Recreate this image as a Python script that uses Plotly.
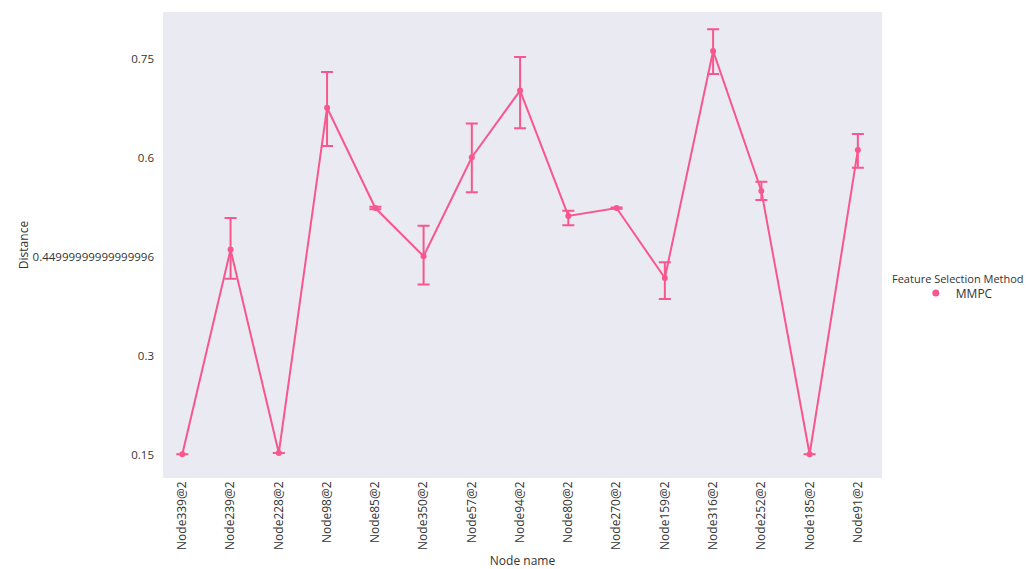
import plotly.graph_objects as go

# Node names on the x axis
nodes = ["Node339@2", "Node239@2", "Node228@2", "Node98@2", "Node85@2",
         "Node350@2", "Node57@2", "Node94@2", "Node80@2", "Node270@2",
         "Node159@2", "Node316@2", "Node252@2", "Node185@2", "Node91@2"]

# Mean distance per node (MMPC)
distance = [0.151, 0.461, 0.153, 0.676, 0.524, 0.451, 0.601, 0.702, 0.512,
            0.524, 0.418, 0.762, 0.550, 0.151, 0.612]

# Confidence interval bounds
ci_upper = [0.151, 0.509, 0.153, 0.730, 0.526, 0.497, 0.652, 0.753, 0.520,
            0.525, 0.442, 0.795, 0.564, 0.151, 0.636]
ci_lower = [0.151, 0.417, 0.153, 0.618, 0.522, 0.408, 0.548, 0.645, 0.498,
            0.523, 0.386, 0.727, 0.536, 0.151, 0.585]

# Y tick values and their printed labels
y_ticks = [0.15, 0.3, 0.44999999999999996, 0.6, 0.75]
y_tick_text = ["0.15", "0.3", "0.44999999999999996", "0.6", "0.75"]

color = "#F8578E"

err_plus = [u - d for u, d in zip(ci_upper, distance)]
err_minus = [d - l for d, l in zip(distance, ci_lower)]

fig = go.Figure()
fig.add_trace(go.Scatter(
    x=list(range(len(nodes))), y=distance,
    mode="lines+markers",
    name="MMPC",
    showlegend=False,
    line=dict(color=color, width=2),
    marker=dict(color=color, size=6),
    error_y=dict(type="data", symmetric=False, array=err_plus,
                 arrayminus=err_minus, color=color, thickness=2, width=6),
))
# Legend entry shown as a single dot
fig.add_trace(go.Scatter(
    x=[None], y=[None], mode="markers", name="MMPC",
    marker=dict(color=color, size=7),
))

fig.update_layout(
    width=1032, height=569,
    margin=dict(l=163, r=150, t=12, b=91),
    paper_bgcolor="white",
    plot_bgcolor="#EAEAF2",
    font=dict(family="Open Sans, DejaVu Sans, sans-serif", size=12, color="#333333"),
    showlegend=True,
    legend=dict(
        x=1.047, y=0.397, xanchor="left", yanchor="middle",
        bgcolor="rgba(0,0,0,0)", font=dict(size=12),
    ),
    annotations=[dict(
        text="Feature Selection Method", xref="paper", yref="paper",
        x=1.011, y=0.429, xanchor="left", yanchor="middle",
        showarrow=False, font=dict(size=11, color="#333333"),
    )],
)
fig.update_xaxes(
    tickmode="array", tickvals=list(range(len(nodes))), ticktext=nodes,
    tickangle=-90, range=[-0.4, 14.5], automargin=False,
    showgrid=False, zeroline=False, showline=False,
    title=dict(text="Node name", font=dict(size=12), standoff=8),
)
fig.update_yaxes(
    tickmode="array", tickvals=y_ticks, ticktext=y_tick_text,
    range=[0.115, 0.821], automargin=False, ticklabelstandoff=8,
    tickfont=dict(size=11.5),
    showgrid=False, zeroline=False, showline=False,
    title=dict(text="Distance", font=dict(size=12), standoff=1),
)

fig.write_html("out.html")
